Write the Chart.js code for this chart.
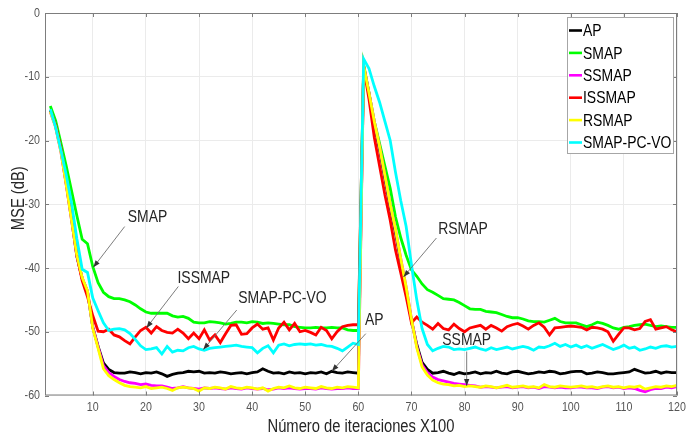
<!DOCTYPE html>
<html>
<head>
<meta charset="utf-8">
<script src="https://cdn.jsdelivr.net/npm/chart.js@4.4.1/dist/chart.umd.min.js"></script>
<style>
  html, body { margin: 0; padding: 0; background: #fff; }
</style>
</head>
<body>
<canvas id="grafica" width="694" height="435"></canvas>
<script>
const FUENTE = "'Liberation Sans', Arial, sans-serif";
const ESTRECHO = 0.82; // letra condensada, como Arial Narrow

// eje x: iteraciones x100 (de 2 a 120)
const iteraciones = Array.from({ length: 119 }, (_, i) => i + 2);
const ticksX = [10, 20, 30, 40, 50, 60, 70, 80, 90, 100, 110, 120];
const ticksY = [0, -10, -20, -30, -40, -50, -60];

const mseAP = [
  -15.3, -17.7, -21.5, -26.8, -32.3, -38.2, -41.6, -43.7, -49.3, -52.3,
  -54.9, -55.9, -56.4, -56.5, -56.5, -56.3, -56.4, -56.6, -56.4, -56.5,
  -56.3, -56.6, -57.0, -56.7, -56.5, -56.4, -56.2, -56.3, -56.2, -56.5,
  -56.4, -56.5, -56.3, -56.4, -56.6, -56.5, -56.4, -56.6, -56.4, -56.3,
  -55.8, -56.2, -56.5, -56.4, -56.6, -56.3, -56.5, -56.4, -56.6, -56.4,
  -56.5, -56.3, -56.6, -56.2, -56.4, -56.5, -56.3, -56.4, -56.5, -8.4,
  -12.6, -17.5, -21.5, -26.0, -30.5, -34.5, -39.0, -43.5, -48.2, -52.0,
  -54.8, -55.9, -56.5, -56.4, -56.2, -56.5, -56.7, -56.4, -56.6, -56.5,
  -56.3, -56.6, -56.4, -56.5, -56.2, -56.5, -56.6, -56.3, -56.2, -56.4,
  -56.6, -56.5, -56.3, -56.4, -56.2, -56.3, -56.6, -56.5, -56.3, -56.2,
  -56.2, -56.6, -56.5, -56.3, -56.4, -56.6, -56.6, -56.5, -56.4, -56.3,
  -55.9, -56.2, -56.5, -56.4, -56.2, -56.5, -56.3, -56.4, -56.4
];

const mseSMAP = [
  -14.6, -16.9, -20.4, -24.0, -27.9, -31.8, -35.5, -36.2, -39.8, -42.3,
  -43.8, -44.5, -44.8, -44.8, -45.0, -45.3, -45.8, -46.4, -46.9, -47.1,
  -47.1, -47.1, -47.1, -47.5, -47.7, -47.6, -47.9, -48.5, -48.6, -48.6,
  -48.4, -48.5, -48.6, -48.8, -48.7, -48.5, -48.5, -48.6, -48.4, -48.5,
  -48.7, -48.6, -48.7, -48.8, -48.9, -48.9, -49.2, -49.3, -49.4, -49.4,
  -49.3, -49.4, -49.4, -49.3, -49.4, -49.4, -49.7, -49.8, -49.8, -8.1,
  -12.5, -17.0, -20.5, -24.0, -27.5, -32.0, -35.3, -38.0, -40.3, -41.3,
  -42.5, -43.4, -43.8, -44.3, -44.8, -44.9, -45.0, -45.4, -45.9, -46.4,
  -46.5, -46.5, -46.8, -46.9, -47.0, -47.3, -47.6, -47.8, -47.8, -48.0,
  -48.3, -48.4, -48.4, -48.5, -48.2, -47.9, -48.4, -48.6, -48.6, -48.6,
  -48.9, -49.2, -48.9, -48.5, -48.7, -49.0, -49.4, -49.6, -49.3, -49.2,
  -49.0, -48.9, -48.8, -49.0, -49.2, -49.1, -49.2, -49.3, -49.3
];

const mseSSMAP = [
  -15.5, -17.9, -21.8, -27.0, -32.5, -38.1, -41.6, -43.6, -49.3, -52.4,
  -55.3, -56.4, -57.0, -57.5, -57.8, -58.0, -58.1, -58.3, -58.2, -58.4,
  -58.5, -58.5, -58.7, -58.9, -58.8, -58.6, -58.8, -58.9, -59.0, -58.8,
  -58.9, -58.8, -58.9, -59.0, -58.8, -58.9, -59.0, -58.8, -58.9, -59.0,
  -58.9, -59.1, -59.0, -58.8, -58.9, -58.8, -58.9, -59.0, -58.9, -58.9,
  -59.0, -58.8, -58.9, -59.0, -58.9, -58.9, -58.8, -58.9, -58.9, -8.3,
  -12.5, -17.0, -21.0, -25.5, -30.0, -34.0, -38.6, -43.0, -48.0, -52.3,
  -55.2, -56.4, -57.1, -57.5, -57.7, -57.9, -58.1, -58.2, -58.3, -58.4,
  -58.5, -58.7, -58.6, -58.7, -58.8, -58.7, -58.6, -58.8, -58.7, -58.6,
  -58.8, -58.7, -58.9, -58.6, -58.7, -58.8, -58.7, -58.8, -58.8, -58.7,
  -58.7, -58.8, -58.8, -58.9, -58.7, -58.6, -58.8, -58.7, -58.9, -58.8,
  -58.9, -59.2, -59.4, -59.1, -58.9, -58.9, -58.7, -58.8, -58.6
];

const mseISSMAP = [
  -15.3, -17.6, -21.2, -26.5, -32.0, -38.0, -42.0, -44.5, -47.5, -49.9,
  -50.0, -49.6, -50.5, -50.8, -51.4, -51.9, -50.8, -49.8, -49.3, -50.2,
  -49.2, -49.8, -50.1, -50.2, -49.6, -50.2, -51.1, -50.2, -51.1, -49.7,
  -51.3, -50.5, -51.7, -50.3, -49.0, -48.9, -50.4, -50.3, -49.4, -48.8,
  -49.6, -49.4, -51.3, -49.4, -48.5, -49.7, -48.7, -50.0, -49.8, -50.1,
  -50.5, -49.3, -49.8, -51.1, -50.0, -49.2, -49.0, -48.9, -48.9, -8.5,
  -13.5, -19.5, -24.0, -28.5, -32.5, -37.2, -40.8, -44.5, -48.6, -47.7,
  -48.5, -49.0, -49.6, -48.7, -49.5, -49.7, -48.8, -49.5, -50.0, -49.4,
  -49.2, -49.0, -49.6, -49.0, -49.4, -49.9, -49.2, -48.9, -48.7, -49.1,
  -49.6, -49.0, -48.6, -49.3, -50.5, -49.4, -49.3, -49.2, -49.1, -49.2,
  -49.3, -49.7, -49.3, -49.4, -49.6, -50.0, -51.5, -50.4, -49.4, -49.4,
  -49.7, -49.5, -48.4, -48.1, -49.6, -49.4, -49.2, -49.7, -50.0
];

const mseRSMAP = [
  -15.5, -17.9, -21.8, -27.0, -32.5, -38.0, -41.5, -43.6, -49.5, -52.6,
  -55.8, -56.9, -57.5, -58.0, -58.4, -58.6, -58.7, -58.8, -58.6, -58.9,
  -58.8, -58.7, -58.9, -59.2, -58.8, -58.7, -58.8, -58.9, -59.3, -58.8,
  -58.9, -58.7, -58.8, -59.0, -58.6, -58.8, -58.9, -58.7, -58.8, -59.0,
  -58.8, -59.3, -58.9, -58.7, -58.8, -58.5, -58.8, -58.9, -58.7, -58.8,
  -58.9, -58.6, -58.8, -58.9, -58.7, -58.8, -58.6, -58.7, -58.8, -8.3,
  -12.5, -17.0, -21.0, -25.5, -30.0, -34.0, -38.6, -43.0, -48.0, -52.5,
  -55.5, -56.8, -57.6, -58.0, -58.2, -58.3, -58.5, -58.4, -58.6, -58.5,
  -58.6, -58.7, -58.5, -58.6, -58.8, -58.6, -58.4, -58.7, -58.6, -58.5,
  -58.7, -58.6, -58.8, -58.3, -58.6, -58.7, -58.5, -58.6, -58.7, -58.6,
  -58.5, -58.7, -58.6, -58.8, -58.6, -58.5, -58.7, -58.6, -58.8, -58.6,
  -58.7, -58.5, -59.0, -58.8, -58.6, -58.7, -58.5, -58.6, -58.4
];

const mseSMAPPCVO = [
  -15.1, -17.9, -21.5, -25.4, -29.8, -35.4, -40.2, -40.7, -44.7, -46.7,
  -48.6, -49.8, -49.6, -49.5, -49.7, -50.3, -51.2, -52.2, -52.8, -52.7,
  -52.5, -53.5, -52.3, -53.2, -52.9, -53.0, -52.5, -52.3, -52.7, -52.9,
  -52.6, -52.5, -52.4, -52.3, -52.2, -52.1, -52.3, -52.4, -52.5, -53.3,
  -52.6, -52.2, -53.3, -52.1, -51.9, -52.2, -52.0, -51.9, -52.0, -51.9,
  -52.1, -52.0, -52.2, -52.3, -52.6, -53.0, -52.4, -51.8, -52.0, -7.2,
  -8.7, -11.5, -14.0, -17.0, -20.0, -25.0, -29.5, -33.5, -39.5, -45.0,
  -49.5, -52.0, -53.0, -52.6, -52.3, -52.4, -52.8, -52.7, -52.8, -52.6,
  -52.4, -52.7, -52.9, -52.5, -52.8, -52.6, -52.4, -52.7, -52.5, -52.3,
  -52.5, -52.9, -52.4, -52.5, -52.2, -51.8, -52.3, -52.0, -52.4, -52.1,
  -52.5, -52.2, -52.6, -52.3, -52.0, -52.4, -52.8, -52.5, -52.1, -52.6,
  -52.4, -52.9, -52.7, -52.4, -52.6, -52.3, -52.2, -52.4, -52.3
];

const algoritmos = ['AP', 'SMAP', 'SSMAP', 'ISSMAP', 'RSMAP', 'SMAP-PC-VO'];
const colores = ['#000000', '#00ff00', '#ff00ff', '#ff0000', '#ffff00', '#00ffff'];
const curvas = [mseAP, mseSMAP, mseSSMAP, mseISSMAP, mseRSMAP, mseSMAPPCVO];

// etiquetas con flecha, en coordenadas de los datos
const notas = [
  { texto: 'SMAP',       x: 20.3, y: -32.1, desde: [16.0, -33.5], hasta: [10.1, -39.9] },
  { texto: 'ISSMAP',     x: 30.9, y: -41.6, desde: [26.1, -42.9], hasta: [20.1, -49.4] },
  { texto: 'SMAP-PC-VO', x: 45.7, y: -44.8, desde: [37.1, -46.6], hasta: [30.8, -52.8] },
  { texto: 'AP',         x: 63.0, y: -48.2, desde: [61.4, -50.3], hasta: [55.0, -56.2] },
  { texto: 'RSMAP',      x: 79.7, y: -34.0, desde: [74.7, -35.3], hasta: [68.5, -41.4] },
  { texto: 'SSMAP',      x: 80.4, y: -51.3, desde: [80.4, -53.1], hasta: [80.4, -58.5] }
];

// texto condensado horizontalmente
function texto(ctx, s, x, y, align) {
  ctx.save();
  ctx.translate(x, y);
  ctx.scale(ESTRECHO, 1);
  ctx.textAlign = align;
  ctx.fillText(s, 0, 0);
  ctx.restore();
}

function flecha(ctx, x1, y1, x2, y2) {
  ctx.beginPath();
  ctx.moveTo(x1, y1);
  ctx.lineTo(x2, y2);
  ctx.stroke();
  const a = Math.atan2(y2 - y1, x2 - x1);
  const L = 7, W = 2.6;
  ctx.beginPath();
  ctx.moveTo(x2, y2);
  ctx.lineTo(x2 - L * Math.cos(a) + W * Math.sin(a), y2 - L * Math.sin(a) - W * Math.cos(a));
  ctx.lineTo(x2 - L * Math.cos(a) - W * Math.sin(a), y2 - L * Math.sin(a) + W * Math.cos(a));
  ctx.closePath();
  ctx.fill();
}

// caja de ejes, marcas, etiquetas, títulos, notas y leyenda
const decoracion = {
  id: 'decoracion',
  afterDraw(chart) {
    const { ctx, chartArea: ca, scales } = chart;
    const sx = scales.x, sy = scales.y;
    ctx.save();

    // caja y marcas hacia dentro
    ctx.strokeStyle = '#7d7d7d';
    ctx.lineWidth = 1;
    ctx.strokeRect(ca.left + 0.5, ca.top + 0.5, ca.right - ca.left - 1, ca.bottom - ca.top - 1);
    ctx.beginPath();
    ticksX.forEach(v => {
      const px = Math.round(sx.getPixelForValue(v)) + 0.5;
      ctx.moveTo(px, ca.bottom); ctx.lineTo(px, ca.bottom - 4);
      ctx.moveTo(px, ca.top); ctx.lineTo(px, ca.top + 4);
    });
    ticksY.forEach(v => {
      const py = Math.round(sy.getPixelForValue(v)) + 0.5;
      ctx.moveTo(ca.left, py); ctx.lineTo(ca.left + 4, py);
      ctx.moveTo(ca.right, py); ctx.lineTo(ca.right - 4, py);
    });
    ctx.stroke();

    // números de los ejes
    ctx.fillStyle = '#555';
    ctx.font = '13px ' + FUENTE;
    ctx.textBaseline = 'middle';
    ticksX.forEach(v => texto(ctx, String(v), sx.getPixelForValue(v), ca.bottom + 12, 'center'));
    ticksY.forEach(v => texto(ctx, String(v), ca.left - 5, sy.getPixelForValue(v), 'right'));

    // títulos de ejes
    ctx.fillStyle = '#262626';
    ctx.font = '18px ' + FUENTE;
    texto(ctx, 'Número de iteraciones X100', (ca.left + ca.right) / 2, 427, 'center');
    ctx.save();
    ctx.translate(19, (ca.top + ca.bottom) / 2 - 6);
    ctx.rotate(-Math.PI / 2);
    ctx.textAlign = 'center';
    ctx.scale(ESTRECHO, 1);
    ctx.fillText('MSE (dB)', 0, 0);
    ctx.restore();

    // notas
    ctx.font = '17px ' + FUENTE;
    ctx.strokeStyle = '#6e6e6e';
    ctx.lineWidth = 0.9;
    notas.forEach(n => {
      ctx.fillStyle = '#262626';
      texto(ctx, n.texto, sx.getPixelForValue(n.x), sy.getPixelForValue(n.y), 'center');
      ctx.fillStyle = '#333';
      flecha(ctx,
        sx.getPixelForValue(n.desde[0]), sy.getPixelForValue(n.desde[1]),
        sx.getPixelForValue(n.hasta[0]), sy.getPixelForValue(n.hasta[1]));
    });

    // leyenda
    const lx = 567, ly = 17, lw = 106, lh = 136;
    ctx.fillStyle = '#ffffff';
    ctx.fillRect(lx, ly, lw, lh);
    ctx.strokeStyle = '#a6a6a6';
    ctx.lineWidth = 1;
    ctx.strokeRect(lx + 0.5, ly + 0.5, lw, lh);
    ctx.font = '17px ' + FUENTE;
    chart.data.datasets.forEach((d, i) => {
      const y = 30.5 + i * 22.4;
      ctx.strokeStyle = d.borderColor;
      ctx.lineWidth = 2.6;
      ctx.beginPath();
      ctx.moveTo(lx + 2, y);
      ctx.lineTo(lx + 15, y);
      ctx.stroke();
      ctx.fillStyle = '#000';
      texto(ctx, d.label, lx + 16, y + 1, 'left');
    });
    ctx.restore();
  }
};

const grafica = new Chart(document.getElementById('grafica').getContext('2d'), {
  type: 'line',
  data: {
    datasets: curvas.map((valores, i) => ({
      label: algoritmos[i],
      data: valores.map((v, k) => ({ x: iteraciones[k], y: v })),
      borderColor: colores[i],
      backgroundColor: colores[i],
      borderWidth: 2.8,
      pointRadius: 0,
      tension: 0,
      // la última serie queda encima
      order: curvas.length - i
    }))
  },
  options: {
    responsive: false,
    animation: false,
    devicePixelRatio: 1,
    layout: { padding: { top: 13, right: 17, left: 0, bottom: 0 } },
    plugins: {
      legend: { display: false },
      tooltip: { enabled: false }
    },
    scales: {
      x: {
        type: 'linear',
        min: 1,
        max: 120,
        afterBuildTicks: s => { s.ticks = ticksX.map(v => ({ value: v })); },
        afterFit: s => { s.height = 39.5; },
        grid: { color: '#ebebeb', drawTicks: false },
        border: { display: false },
        ticks: { display: false }
      },
      y: {
        min: -60,
        max: 0,
        afterBuildTicks: s => { s.ticks = ticksY.map(v => ({ value: v })); },
        afterFit: s => { s.width = 45; },
        grid: { color: '#ebebeb', drawTicks: false },
        border: { display: false },
        ticks: { display: false }
      }
    }
  },
  plugins: [decoracion]
});
</script>
</body>
</html>
